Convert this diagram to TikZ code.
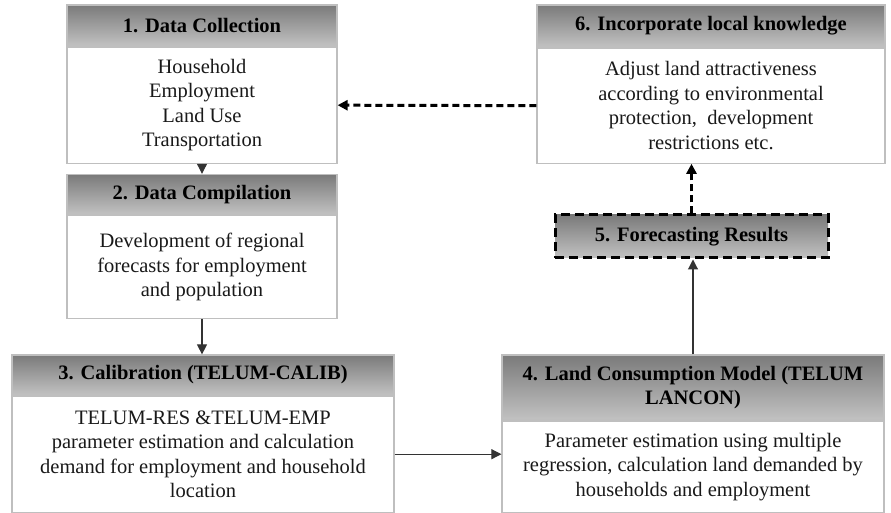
\documentclass[tikz,border=0pt]{standalone}
\usepackage{fontspec}
\setmainfont{Liberation Serif}
\usetikzlibrary{positioning}
\usetikzlibrary{arrows.meta}

\begin{document}
\begin{tikzpicture}[x=1pt, y=1pt,
headnode/.style={rectangle, draw=black!25, line width=1.2pt, top color=black!52, bottom color=black!24, text=black, font=\bfseries\fontsize{20.5}{24}\selectfont, align=center, inner sep=0pt},
bodynode/.style={rectangle, draw=black!25, line width=1.2pt, fill=white, text=black!90, font=\fontsize{20.5}{24.5}\selectfont, align=center, inner sep=0pt},
resultnode/.style={headnode, draw=black, line width=3pt, dash pattern=on 9pt off 5pt},
arrowline/.style={-{Triangle[length=10pt,width=10pt]}, line width=1.1pt, draw=black!80},
dasharrow/.style={-{Triangle[length=10pt,width=10pt]}, line width=3pt, dash pattern=on 7pt off 4pt},
]
\useasboundingbox (0,0) rectangle (891,513);

%Nodes
\node[headnode, minimum width=270, minimum height=41]   (h1) at (202,487.5) {1. Data Collection};
\node[bodynode, minimum width=270, minimum height=116]  (b1) [below=0pt of h1] {Household\\Employment\\Land Use\\Transportation};
\node[headnode, minimum width=270, minimum height=40]   (h2) [below=10pt of b1] {2. Data Compilation};
\node[bodynode, minimum width=270, minimum height=103]  (b2) [below=0pt of h2] {Development of regional\\forecasts for employment\\and population};
\node[headnode, minimum width=382, minimum height=40]   (h3) at (203,138) {3. Calibration (TELUM-CALIB)};
\node[bodynode, minimum width=382, minimum height=116]  (b3) [below=0pt of h3] {TELUM-RES \&TELUM-EMP\\parameter estimation and calculation\\demand for employment and household\\location};
\node[headnode, minimum width=382, minimum height=65]   (h4) at (693,125.5) {4. Land Consumption Model (TELUM\\LANCON)};
\node[bodynode, minimum width=382, minimum height=91]   (b4) [below=0pt of h4] {Parameter estimation using multiple\\regression, calculation land demanded by\\households and employment};
\node[resultnode, minimum width=273, minimum height=43] (h5) at (691.5,276.5) {5. Forecasting Results};
\node[headnode, minimum width=348, minimum height=42]   (h6) at (711,487) {6. Incorporate local knowledge};
\node[bodynode, minimum width=348, minimum height=115]  (b6) [below=0pt of h6] {Adjust land attractiveness\\according to environmental\\protection,\ \ development\\restrictions etc.};

%Lines
\draw[arrowline] (b1.south) -- (h2.north);
\draw[arrowline] (b2.south) -- (b2.south |- h3.north);
\draw[arrowline] (b3.east) -- (b3.east -| b4.west);
\draw[arrowline] (h4.north) -- (h4.north |- h5.south);
\draw[dasharrow] (h5.north) -- (h5.north |- b6.south);
\draw[dasharrow] (b6.west) -- (b1.east);
\end{tikzpicture}
\end{document}
